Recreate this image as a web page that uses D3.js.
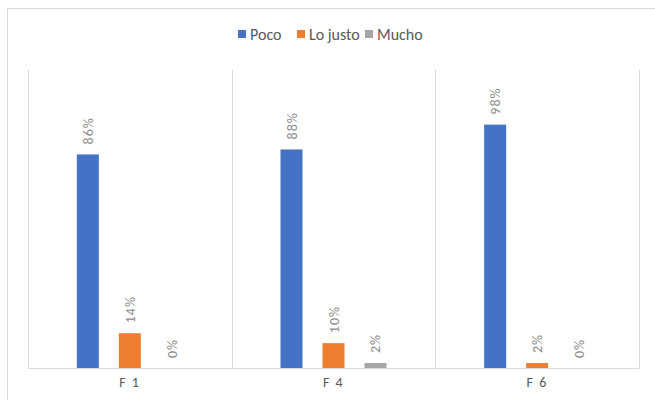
<!DOCTYPE html>
<html>
<head>
<meta charset="utf-8">
<script src="https://cdn.jsdelivr.net/npm/d3@7"></script>
<style>
  html, body { margin: 0; padding: 0; background: #fff; }
  svg { display: block; font-family: Carlito, Calibri, "Open Sans", sans-serif; }
</style>
</head>
<body>
<svg id="chart" width="655" height="400"></svg>
<script>
// Categories, series and values
const categories = ["F 1", "F 4", "F 6"];
const seriesNames = ["Poco", "Lo justo", "Mucho"];
const poco = [0.86, 0.88, 0.98];
const loJusto = [0.14, 0.10, 0.02];
const mucho = [0.00, 0.02, 0.00];
const seriesColors = ["#4472c4", "#ed7d31", "#a5a5a5"];

const seriesValues = [poco, loJusto, mucho];

const W = 655, H = 400;
const margin = { top: 70, right: 16, bottom: 32, left: 28 };
const plotW = W - margin.left - margin.right;
const plotH = H - margin.top - margin.bottom;

const svg = d3.select("#chart");

// Outer chart frame
svg.append("rect")
  .attr("x", 7.5).attr("y", 8.5)
  .attr("width", 700).attr("height", 500)
  .attr("fill", "none").attr("stroke", "#d9d9d9").attr("stroke-width", 1);

const g = svg.append("g").attr("transform", `translate(${margin.left},${margin.top})`);

const x0 = d3.scaleBand().domain(categories).range([0, plotW]).paddingInner(0).paddingOuter(0);
const x1 = d3.scaleBand().domain(seriesNames).range([x0.bandwidth() / 2 - 53, x0.bandwidth() / 2 + 53]).paddingInner(0.476).paddingOuter(0);
const y = d3.scaleLinear().domain([0, 1.2]).range([plotH, 0]);

// Category separators
g.append("g").selectAll("line")
  .data(d3.range(categories.length + 1))
  .join("line")
  .attr("x1", i => Math.round(i * x0.bandwidth()) + 0.5)
  .attr("x2", i => Math.round(i * x0.bandwidth()) + 0.5)
  .attr("y1", 0).attr("y2", plotH)
  .attr("stroke", "#d9d9d9");

// Bars
const groups = g.append("g").selectAll("g")
  .data(categories)
  .join("g")
  .attr("transform", d => `translate(${x0(d)},0)`);

groups.selectAll("rect")
  .data((d, ci) => seriesNames.map((s, si) => ({ s, si, v: seriesValues[si][ci] })))
  .join("rect")
  .attr("x", d => x1(d.s))
  .attr("y", d => y(d.v))
  .attr("width", x1.bandwidth())
  .attr("height", d => plotH - y(d.v))
  .attr("fill", d => seriesColors[d.si]);

// Rotated value labels
groups.selectAll("text")
  .data((d, ci) => seriesNames.map((s, si) => ({ s, si, v: seriesValues[si][ci] })))
  .join("text")
  .attr("transform", d => `translate(${x1(d.s) + x1.bandwidth() / 2 + 5},${y(d.v) - 10}) rotate(-90)`)
  .attr("text-anchor", "start")
  .attr("font-size", 14)
  .attr("letter-spacing", 1)
  .attr("fill", "#8c8c8c")
  .text(d => d3.format(".0%")(d.v));

// Baseline and category axis
const xAxis = g.append("g")
  .attr("transform", `translate(0,${plotH})`)
  .call(d3.axisBottom(x0).tickSize(0).tickPadding(9));
xAxis.select(".domain").attr("stroke", "#d9d9d9");
xAxis.selectAll("text")
  .attr("font-size", 14)
  .attr("letter-spacing", 1.5)
  .attr("fill", "#595959")
  .attr("font-family", "Carlito, Calibri, 'Open Sans', sans-serif");

// Legend
const legendItems = [
  { name: seriesNames[0], x: 238 },
  { name: seriesNames[1], x: 297 },
  { name: seriesNames[2], x: 365 }
];
const legend = svg.append("g");
legendItems.forEach((it, i) => {
  legend.append("rect")
    .attr("x", it.x).attr("y", 30)
    .attr("width", 8).attr("height", 8)
    .attr("fill", seriesColors[i]);
  legend.append("text")
    .attr("x", it.x + 12).attr("y", 40)
    .attr("font-size", 16)
    .attr("fill", "#595959")
    .text(it.name);
});
</script>
</body>
</html>
